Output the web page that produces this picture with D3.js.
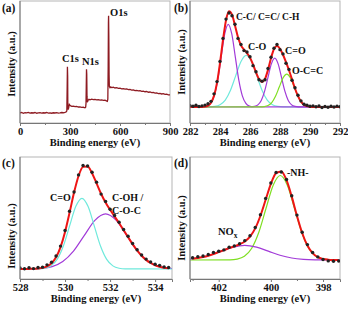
<!DOCTYPE html>
<html>
<head>
<meta charset="utf-8">
<script src="https://cdn.jsdelivr.net/npm/d3@7"></script>
<style>
body { margin: 0; background: #fff; }
svg { display: block; }
text { font-family: "Liberation Serif", "Times New Roman", serif; font-weight: bold; fill: #111; }
</style>
</head>
<body>
<svg id="chart" width="348" height="312"></svg>
<script>
// (a) survey spectrum, [binding energy, intensity]
var survey = [[0,8.2],[10,8.6],[20,8.0],[30,8.5],[40,8.3],[50,8.7],[60,8.1],[70,8.4],[80,8.2],[90,8.6],[100,8.0],[110,8.3],[120,8.5],[130,8.1],[140,8.4],[150,8.2],[160,8.6],[170,8.1],[180,8.3],[190,8.0],[200,8.4],[210,8.2],[220,8.5],[230,8.1],[240,8.3],[250,8.6],[260,8.4],[270,8.8],[278,9.2],[281,10],[283,30],[284.5,46],[286,38],[287,14],[289,11],[292,12.5],[296,15.2],[300,14.6],[305,14.0],[310,13.7],[320,13.9],[330,13.4],[340,13.6],[350,13.1],[360,13.2],[370,12.8],[380,12.9],[390,12.5],[394,13.0],[396,16],[397.5,30],[399,44],[400.5,40],[402,22],[404,17],[408,18.5],[414,19.4],[420,19.0],[430,19.5],[440,19.1],[450,19.4],[460,18.9],[470,19.2],[480,18.8],[490,19.0],[500,18.5],[510,18.7],[518,18.2],[524,17.8],[527,19.5],[529,45],[530.5,82],[531.5,88],[533,70],[534.5,40],[536,30.0],[540,29.0],[545,29.6],[550,29.0],[560,29.3],[570,28.7],[580,29.0],[590,28.4],[600,28.6],[610,28.0],[620,28.2],[630,27.7],[640,27.9],[650,27.3],[660,27.5],[670,27.0],[680,27.2],[690,26.6],[700,26.8],[710,26.3],[720,26.5],[730,25.9],[740,26.1],[750,25.6],[760,25.8],[770,25.2],[780,25.4],[790,24.9],[800,25.0],[810,24.5],[820,24.7],[830,24.1],[840,24.3],[850,23.8],[860,24.0],[870,23.5],[880,23.6],[890,23.1],[900,23.0]];
var surveyTicks = [0, 300, 600, 900];
var surveyMinor = [150, 450, 750];
var surveyPeaks = [["C1s", 62, 62], ["N1s", 82, 65], ["O1s", 110, 16]];

// (b) C1s, sampled every 0.2 eV from 282 to 292
var c1sEV = d3.range(282, 292.001, 0.2);
var c1sFit = [0,0,0,0,0.1,0.4,1.5,4.6,11.8,25.6,46.8,71.4,92.2,101.8,98.3,86.7,74.2,65.6,61.1,57.4,52.5,45.3,36.9,29.7,26.7,29.9,39.5,51.9,61.7,64.9,62.0,55.6,47.8,39.1,29.4,19.7,11.5,5.8,2.5,0.9,0.3,0.1,0,0,0,0,0,0,0,0,0];
var c1sData = [1.5,0.8,1.8,0.5,1.2,2.0,3.5,6.0,14.0,27.0,48.5,73.0,93.5,100.0,97.0,88.0,73.0,66.5,60.0,58.5,53.5,44.0,37.5,29.0,27.5,29.0,41.0,53.0,62.5,66.5,61.0,56.5,46.5,40.0,28.5,20.5,12.5,6.5,3.0,1.8,0.8,1.2,0.2,1.0,-0.5,0.6,-0.2,0.8,0.0,0.9,0.3];
var c1sCC  = [[282,0],[282.905,0.19],[283.14,0.98],[283.375,3.9],[283.61,11.9],[283.845,28.6],[284.08,53.4],[284.315,77.7],[284.55,88],[284.785,77.7],[285.02,53.4],[285.255,28.6],[285.49,11.9],[285.725,3.9],[285.96,0.98],[286.195,0.19],[292,0]];
var c1sCO  = [[282,0],[283.3,0.12],[283.65,0.6],[284.0,2.4],[284.35,7.4],[284.7,17.9],[285.05,33.4],[285.4,48.5],[285.75,55],[286.1,48.5],[286.45,33.4],[286.8,17.9],[287.15,7.4],[287.5,2.4],[287.85,0.6],[288.2,0.12],[292,0]];
var c1sCdO = [[282,0],[286.075,0.11],[286.3,0.58],[286.525,2.3],[286.75,7.0],[286.975,16.9],[287.2,31.5],[287.425,45.9],[287.65,52],[287.875,45.9],[288.1,31.5],[288.325,16.9],[288.55,7.0],[288.775,2.3],[289.0,0.58],[289.225,0.11],[292,0]];
var c1sOCC = [[282,0],[286.7,0.08],[286.95,0.39],[287.2,1.5],[287.45,4.7],[287.7,11.4],[287.95,21.2],[288.2,30.9],[288.45,35],[288.7,30.9],[288.95,21.2],[289.2,11.4],[289.45,4.7],[289.7,1.5],[289.95,0.39],[290.2,0]];
var c1sTicks = [282, 284, 286, 288, 290, 292];
var c1sMinor = [283, 285, 287, 289, 291];

// (c) O1s, sampled every 0.2 eV from 528 to 534.6
var o1sEV = d3.range(528, 534.601, 0.2);
var o1sFit = [0,0,0.1,0.2,0.5,1.1,2.5,5.5,11.2,21.1,35.6,54.0,73.5,89.4,98.2,98.5,92.1,82.3,72.4,64.0,56.9,50.6,44.2,37.4,30.6,23.9,17.9,12.8,8.8,5.8,3.6,2.2,1.3,0.7];
var o1sData = [1.0,0.3,1.2,0.4,1.5,1.8,4.0,6.5,12.5,22.0,37.0,55.5,74.0,90.5,99.5,99.0,93.0,83.5,72.0,65.0,57.5,51.5,45.0,38.0,31.5,24.5,18.5,13.5,9.5,6.8,4.5,3.5,2.0,1.5];
var o1sCdO = [[528,0],[528.825,0.15],[529.1,0.75],[529.375,3.0],[529.65,9.2],[529.925,22.1],[530.2,41.2],[530.475,60.0],[530.75,68],[531.025,60.0],[531.3,41.2],[531.575,22.1],[531.85,9.2],[532.125,3.0],[532.4,0.75],[532.675,0.15],[534.75,0]];
var o1sCOH = [[528,0],[528.475,0.12],[528.95,0.59],[529.425,2.3],[529.9,7.2],[530.375,17.2],[530.85,32.1],[531.325,46.8],[531.8,53],[532.275,46.8],[532.75,32.1],[533.225,17.2],[533.7,7.2],[534.175,2.3],[534.75,0.5]];
var o1sTicks = [528, 530, 532, 534];
var o1sMinor = [529, 531, 533];

// (d) N1s, sampled every 0.2 eV from 403 down to 397.4
var n1sEV = d3.range(403, 397.399, -0.2);
var n1sFit = [1.4,2.2,3.4,4.9,6.8,9.0,11.2,13.5,15.6,17.9,21.1,26.6,35.9,50.3,68.4,86.5,98.8,100.7,90.7,72.0,50.2,30.7,16.5,7.9,3.2,1.2,0.4,0.1,0.0];
var n1sData = [2.5,3.8,4.5,6.2,8.5,10.0,11.5,14.5,16.0,18.5,22.0,27.5,37.0,51.5,70.0,87.5,99.5,100.0,91.5,73.0,51.0,31.5,17.5,8.5,3.5,0.5,-1.0,-1.5,-1.2];
var n1sNH  = [[403.1,0],[401.565,0.21],[401.29,1.07],[401.015,4.2],[400.74,13.0],[400.465,31.2],[400.19,58.2],[399.915,84.7],[399.64,96],[399.365,84.7],[399.09,58.2],[398.815,31.2],[398.54,13.0],[398.265,4.2],[397.99,1.07],[397.715,0.21],[397.35,0]];
var n1sNOx = [[403.1,1.1],[402.8,2.25],[402.35,5.4],[401.9,10.1],[401.45,14.6],[401.0,16.6],[400.55,14.6],[400.1,10.1],[399.65,5.4],[399.2,2.25],[398.75,0.73],[398.3,0.18],[397.85,0.04],[397.35,0]];
var n1sTicks = [402, 400, 398];
var n1sMinor = [403, 401, 399];

var purple = "#a13ad8", cyan = "#6fe9dc", green = "#7fdf22", red = "#ee1515";

var svg = d3.select("#chart");

function zip(ev, vals) {
  return ev.map(function(e, i) { return [e, vals[i]]; });
}

function drawPanel(p) {
  var g = svg.append("g");
  var x = d3.scaleLinear().domain(p.xDomain).range([p.left, p.right]);
  var y = d3.scaleLinear().domain([0, 100]).range(p.yRange);
  var id = "clip" + p.name;

  g.append("clipPath").attr("id", id)
    .append("rect").attr("x", p.left).attr("y", p.top)
    .attr("width", p.right - p.left).attr("height", p.bottom - p.top);

  g.append("rect")
    .attr("x", p.left).attr("y", p.top)
    .attr("width", p.right - p.left).attr("height", p.bottom - p.top)
    .attr("fill", "none").attr("stroke", "#b5b5b5").attr("stroke-width", 1);

  var plot = g.append("g").attr("clip-path", "url(#" + id + ")");
  var line = d3.line()
    .x(function(d) { return x(d[0]); })
    .y(function(d) { return y(d[1]); })
    .curve(p.curve || d3.curveMonotoneX);

  p.series.forEach(function(s) {
    plot.append("path").datum(s.pts)
      .attr("d", line).attr("fill", "none")
      .attr("stroke", s.color).attr("stroke-width", s.width || 1.2);
  });

  if (p.dots) {
    plot.selectAll("circle").data(p.dots).enter().append("circle")
      .attr("cx", function(d) { return x(d[0]); })
      .attr("cy", function(d) { return y(d[1]); })
      .attr("r", 1.7).attr("fill", "#222");
  }

  // left axis line
  g.append("line").attr("x1", p.left).attr("x2", p.left)
    .attr("y1", p.top).attr("y2", p.bottom).attr("stroke", "#777");

  var xAxis = d3.axisBottom(x).tickValues(p.ticks).tickSize(3).tickPadding(2).tickFormat(d3.format("d"));
  var ag = g.append("g").attr("transform", "translate(0," + p.bottom + ")").call(xAxis);
  ag.select(".domain").attr("stroke", "#777");
  ag.selectAll(".tick line").attr("stroke", "#777");
  ag.selectAll(".tick text").attr("font-size", 10.5).attr("font-family", null).attr("fill", "#111");

  var mg = g.append("g").attr("transform", "translate(0," + p.bottom + ")")
    .call(d3.axisBottom(x).tickValues(p.minor).tickSize(2).tickFormat(""));
  mg.select(".domain").remove();
  mg.selectAll(".tick line").attr("stroke", "#777");

  g.append("text").attr("x", (p.left + p.right) / 2).attr("y", p.bottom + 23)
    .attr("text-anchor", "middle").attr("font-size", 10.5)
    .text("Binding energy (eV)");

  g.append("text")
    .attr("transform", "translate(" + (p.left - 5) + "," + p.labelY + ") rotate(-90)")
    .attr("text-anchor", "middle").attr("font-size", 10.5)
    .text("Intensity (a.u.)");

  g.append("text").attr("x", p.tagX).attr("y", p.tagY)
    .attr("font-size", 11.5).text(p.tag);

  (p.notes || []).forEach(function(n) {
    g.append("text").attr("x", n[1]).attr("y", n[2])
      .attr("font-size", n[3] || 10).text(n[0]);
  });
  return g;
}

drawPanel({
  name: "a", tag: "(a)", tagX: 2, tagY: 12,
  left: 20, right: 170, top: 1, bottom: 123, labelY: 64,
  xDomain: [0, 900], yRange: [123, 1],
  ticks: surveyTicks, minor: surveyMinor, curve: d3.curveLinear,
  series: [{ pts: survey, color: "#8e1b22", width: 1.3 }],
  notes: surveyPeaks.map(function(s) { return [s[0], s[1], s[2], 10.5]; })
});

drawPanel({
  name: "b", tag: "(b)", tagX: 174, tagY: 12,
  left: 190, right: 340, top: 1, bottom: 123, labelY: 62,
  xDomain: [282, 292], yRange: [107, 13],
  ticks: c1sTicks, minor: c1sMinor,
  series: [
    { pts: c1sCO, color: cyan },
    { pts: c1sCC, color: purple },
    { pts: c1sCdO, color: purple },
    { pts: c1sOCC, color: green },
    { pts: zip(c1sEV, c1sFit), color: red, width: 2 }
  ],
  dots: zip(c1sEV, c1sData),
  notes: [["C-C/ C=C/ C-H", 236, 20, 9.5], ["C-O", 248, 50], ["C=O", 285, 54], ["O-C=C", 292, 74]]
});

drawPanel({
  name: "c", tag: "(c)", tagX: 2, tagY: 167,
  left: 20, right: 172, top: 157, bottom: 279, labelY: 236,
  xDomain: [528, 534.75], yRange: [269, 165],
  ticks: o1sTicks, minor: o1sMinor,
  series: [
    { pts: o1sCOH, color: purple },
    { pts: o1sCdO, color: cyan },
    { pts: zip(o1sEV, o1sFit), color: red, width: 2 }
  ],
  dots: zip(o1sEV, o1sData),
  notes: [["C=O", 50, 201], ["C-OH /", 112, 201], ["C-O-C", 112, 214]]
});

var gd = drawPanel({
  name: "d", tag: "(d)", tagX: 174, tagY: 167,
  left: 190, right: 340, top: 157, bottom: 279, labelY: 228,
  xDomain: [403.1, 397.35], yRange: [260, 172],
  ticks: n1sTicks, minor: n1sMinor,
  series: [
    { pts: n1sNH, color: green },
    { pts: n1sNOx, color: purple },
    { pts: zip(n1sEV, n1sFit), color: red, width: 2 }
  ],
  dots: zip(n1sEV, n1sData),
  notes: [["-NH-", 287, 176]]
});

var nox = gd.append("text").attr("x", 218).attr("y", 235).attr("font-size", 10.5);
nox.append("tspan").text("NO");
nox.append("tspan").attr("font-size", 7.5).attr("dy", 3).text("x");
</script>
</body>
</html>
